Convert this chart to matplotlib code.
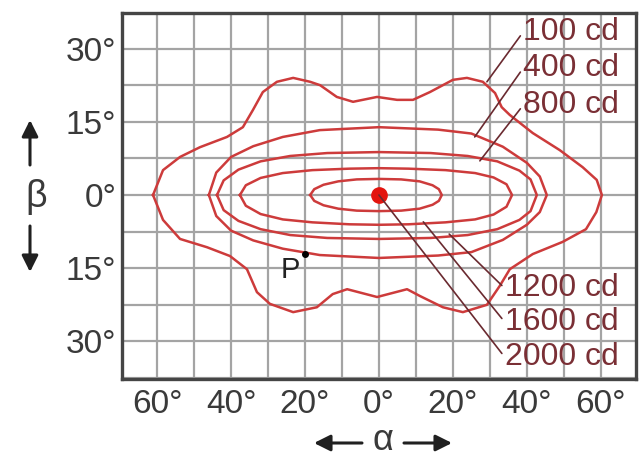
import matplotlib
matplotlib.use("Agg")
import matplotlib.pyplot as plt
from matplotlib.patches import FancyArrowPatch
from matplotlib.ticker import MultipleLocator

plt.rcParams['font.family'] = ['Liberation Sans', 'DejaVu Sans']

# isocandela curves (alpha, beta in degrees)
outer_alpha = [-61.1, -58.4, -53.8, -48.4, -41.1, -36.8, -34.1, -31.4, -27.6, -23.2, -18.6, -15.9,
               -11.4, -7.0, -0.5, 4.9, 9.2, 13.8, 20.0, 23.8, 28.1, 31.4, 33.2, 35.4, 41.6, 48.9,
               55.1, 58.9, 60.3,
               58.8, 56.0, 49.7, 41.6, 35.4, 32.7, 29.2, 22.7, 17.3, 11.1, 7.6, -0.5, -8.6, -12.5,
               -16.8, -23.2, -29.5, -33.0, -35.7, -40.3, -46.5, -53.8, -58.4, -61.1]
outer_beta = [0, 5.1, 7.8, 9.8, 11.9, 13.9, 17.4, 21.1, 23.2, 24.0, 23.2, 22.5,
              20.1, 19.1, 20.1, 19.5, 19.5, 21.1, 23.6, 24.0, 23.2, 20.9, 18.0, 16.4, 12.7, 9.2,
              5.7, 3.1, 0,
              -3.5, -7.0, -9.6, -12.1, -15.2, -18.6, -22.5, -24.0, -23.0, -20.7, -19.3, -20.9, -19.3, -20.3,
              -23.0, -24.0, -22.3, -19.9, -15.2, -12.5, -10.7, -9.0, -5.1, 0]

lens1_alpha = [-46, -44, -40, -34, -26, -16, 0, 16, 25, 33.5, 40, 43.5, 45.4,
               43.5, 40, 33.5, 25, 16, 0, -16, -26, -34, -40, -44, -46]
lens1_beta = [0, 4.6, 7.8, 10.0, 11.9, 13.3, 13.9, 13.4, 12.6, 9.9, 6.6, 3.8, 0,
              -3.5, -6.1, -9.2, -11.7, -12.4, -12.9, -12.3, -11.0, -9.3, -7.3, -4.3, 0]

lens2_alpha = [-43.8, -42, -38, -32, -24, -14, 0, 14, 24, 32, 38, 41, 42.7,
               41, 38, 32, 24, 14, 0, -14, -24, -32, -38, -42, -43.8]
lens2_beta = [0, 3.0, 5.2, 6.9, 8.0, 8.6, 8.8, 8.6, 8.0, 6.9, 5.0, 3.2, 0,
              -3.3, -5.1, -7.0, -8.2, -8.8, -9.0, -8.8, -8.2, -7.0, -5.3, -3.1, 0]

lens3_alpha = [-37.6, -36, -32, -26, -18, -8, 0, 8, 18, 26, 31, 34.5, 36,
               34.5, 31, 26, 18, 8, 0, -8, -18, -26, -32, -36, -37.6]
lens3_beta = [0, 2.0, 3.5, 4.5, 5.1, 5.4, 5.5, 5.4, 5.1, 4.5, 3.6, 2.2, 0,
              -2.4, -4.0, -5.0, -5.6, -6.0, -6.1, -6.0, -5.6, -5.0, -3.9, -2.2, 0]

lens4_alpha = [-18.6, -17.5, -15, -11, -6, 0, 6, 11, 14.5, 16.2, 17,
               16.2, 14.5, 11, 6, 0, -6, -11, -15, -17.5, -18.6]
lens4_beta = [0, 1.2, 2.1, 2.8, 3.2, 3.3, 3.2, 2.8, 2.0, 1.2, 0,
              -1.2, -2.0, -2.8, -3.2, -3.3, -3.2, -2.8, -2.1, -1.2, 0]

# labels: text, point on curve, text anchor
labels = ["100 cd", "400 cd", "800 cd", "1200 cd", "1600 cd", "2000 cd"]
label_xy = [(29.2, 23.2), (25.9, 11.9), (27.3, 7.0), (19.0, -8.0), (12.0, -5.5), (0.0, 0.0)]
label_text_xy = [(39.0, 33.4), (39.0, 26.0), (39.0, 18.4), (34.0, -19.1), (34.0, -26.0), (34.0, -33.2)]

point_p = (-20.0, -12.0)

red = '#cd3b3b'
fig = plt.figure(figsize=(6.4, 4.59), dpi=100)
ax = fig.add_axes([0.1906, 0.1743, 0.803, 0.7974])

ax.set_xlim(-69.5, 69.5)
ax.set_ylim(-37.7, 37.3)

ax.xaxis.set_minor_locator(MultipleLocator(10))
ax.yaxis.set_minor_locator(MultipleLocator(7.5))
ax.set_xticks([-60, -40, -20, 0, 20, 40, 60])
ax.set_xticklabels(["60°", "40°", "20°", "0°", "20°", "40°", "60°"])
ax.set_yticks([-30, -15, 0, 15, 30])
ax.set_yticklabels(["30°", "15°", "0°", "15°", "30°"])
ax.grid(True, which='both', color='#a4a4a4', lw=1.6, zorder=0)
ax.set_axisbelow(True)
ax.tick_params(which='both', length=0, labelsize=24, colors='#3a3a3a')
ax.tick_params(axis='x', pad=7)
ax.tick_params(axis='y', pad=4)
for s in ax.spines.values():
    s.set_color('#454545')
    s.set_linewidth(2.4)

for xs, ys in [(outer_alpha, outer_beta), (lens1_alpha, lens1_beta), (lens2_alpha, lens2_beta),
               (lens3_alpha, lens3_beta), (lens4_alpha, lens4_beta)]:
    ax.plot(xs, ys, color=red, lw=1.8, solid_joinstyle='round', zorder=2)

ax.plot([0], [0], 'o', color='#e3140e', ms=11, zorder=4)
ax.plot([point_p[0]], [point_p[1]], 'o', color='black', ms=4, zorder=4)
ax.text(point_p[0] - 4, point_p[1] - 3.4, "P", fontsize=21, color='#222222',
        ha='center', va='center', zorder=4)

for txt, xy, xyt in zip(labels, label_xy, label_text_xy):
    ax.annotate(txt, xy=xy, xytext=xyt, textcoords='data', fontsize=23,
                color='#7a2f35', ha='left', va='center', annotation_clip=False,
                arrowprops=dict(arrowstyle='-', color='#6a2a30', lw=1.2,
                                shrinkA=0, shrinkB=0, relpos=(0, 0.5)),
                zorder=5)

# axis names with arrows
fig.text(36 / 640, 1 - 197 / 459, "β", fontsize=27, color='#3a3a3a', ha='center', va='center')
fig.text(383 / 640, 1 - 440 / 459, "α", fontsize=26, color='#3a3a3a', ha='center', va='center')
arr = dict(arrowstyle='-|>,head_length=0.7,head_width=0.35', color='#202020', lw=2.2,
           shrinkA=0, shrinkB=0, mutation_scale=14, transform=fig.transFigure)
for p0, p1 in [((30, 165), (30, 120)), ((30, 226), (30, 272)),
               ((362, 443), (314, 443)), ((404, 443), (452, 443))]:
    fig.add_artist(FancyArrowPatch((p0[0] / 640, 1 - p0[1] / 459),
                                   (p1[0] / 640, 1 - p1[1] / 459), **arr))

fig.savefig("out.png", dpi=100)
